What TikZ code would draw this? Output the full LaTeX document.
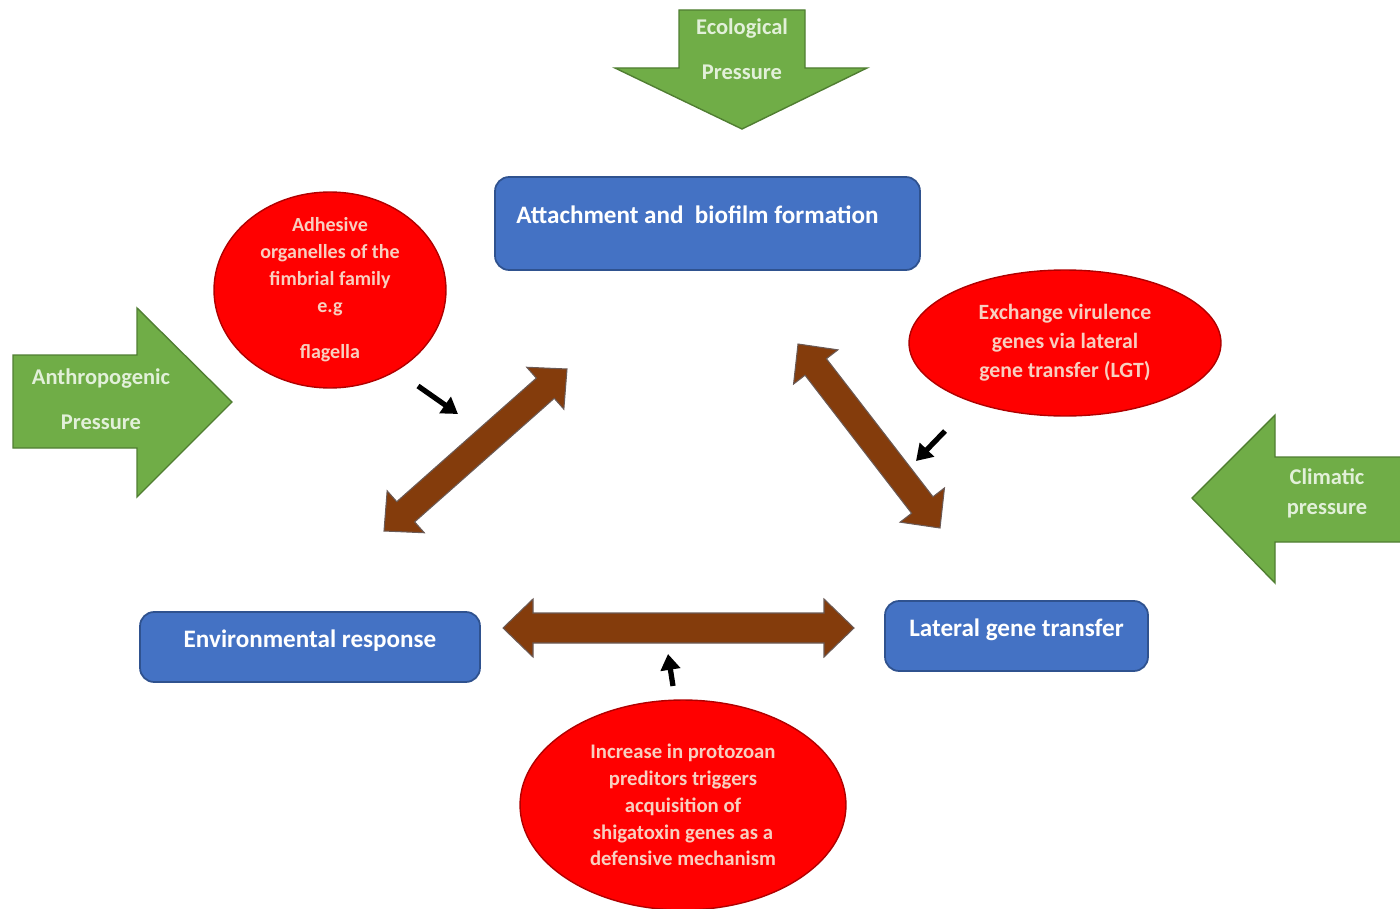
\documentclass[tikz,border=0pt]{standalone}
\usepackage{fontspec}
\setmainfont{Carlito}
\usetikzlibrary{shapes.geometric,calc,arrows.meta}

\definecolor{pressgreen}{HTML}{70AD47}
\definecolor{pressedge}{HTML}{507E32}
\definecolor{presstext}{HTML}{E2F0D9}
\definecolor{boxblue}{HTML}{4472C4}
\definecolor{boxedge}{HTML}{2F528F}
\definecolor{ovalred}{HTML}{FF0000}
\definecolor{ovaledge}{HTML}{B00000}
\definecolor{ovaltext}{HTML}{F8CFC0}
\definecolor{linkbrown}{HTML}{843C0C}
\definecolor{linkedge}{HTML}{6B5A55}

\tikzset{
  pressure/.style={fill=pressgreen,draw=pressedge,line width=0.8pt,line join=miter},
  presslabel/.style={text=presstext,align=center,font=\bfseries\fontsize{12.8}{25.5}\selectfont},
  stage/.style={rectangle,rounded corners=8pt,fill=boxblue,draw=boxedge,line width=1pt,
    text=white,font=\bfseries\fontsize{14.3}{17}\selectfont,text height=9pt,text depth=9pt},
  factor/.style={ellipse,fill=ovalred,draw=ovaledge,line width=0.8pt,inner sep=0pt},
  factortext/.style={text=ovaltext,align=center},
  link/.style={fill=linkbrown,draw=linkedge,line width=0.6pt,line join=miter},
  nudge/.style={line width=3pt,-{Triangle[length=9pt,width=11pt]}}
}

% brown two-way arrow: from, to, head length, head half width, shaft half width
\newcommand{\twoway}[5]{%
  \filldraw[link] (#1) -- ($(#1)!#3!(#2)!#4!90:(#2)$) -- ($(#1)!#3!(#2)!#5!90:(#2)$)
    -- ($(#2)!#3!(#1)!#5!-90:(#1)$) -- ($(#2)!#3!(#1)!#4!-90:(#1)$) -- (#2)
    -- ($(#2)!#3!(#1)!#4!90:(#1)$) -- ($(#2)!#3!(#1)!#5!90:(#1)$)
    -- ($(#1)!#3!(#2)!#5!-90:(#2)$) -- ($(#1)!#3!(#2)!#4!-90:(#2)$) -- cycle;}

\begin{document}
\begin{tikzpicture}[x=0.02cm,y=-0.02cm]
    \useasboundingbox (0,0) rectangle (1400,909);

    % pressures
    \draw[pressure] (679,10) -- (805,10) -- (805,68) -- (867,68) -- (742,129) -- (615,68) -- (679,68) -- cycle;
    \node[presslabel] (eco) at (742,49.5) {Ecological\\Pressure};
    \draw[pressure] (13,355) -- (137,355) -- (137,308) -- (232,402) -- (137,497) -- (137,448) -- (13,448) -- cycle;
    \node[presslabel] (anthro) at (101,399.5) {Anthropogenic\\Pressure};
    \draw[pressure] (1401,457) -- (1275,457) -- (1275,415) -- (1192,498) -- (1275,583) -- (1275,542) -- (1401,542);
    \node[presslabel,font=\bfseries\fontsize{12.8}{17}\selectfont] (climatic) at (1327,493) {Climatic\\pressure};

    % stages
    \node[stage,minimum width=8.5cm,minimum height=1.86cm] (attach) at (707.5,223.5) {Attachment and \ biofilm formation\kern0.4cm};
    \node[stage,minimum width=6.8cm,minimum height=1.4cm] (envresp) at (310,647) {Environmental response};
    \node[stage,minimum width=5.26cm,minimum height=1.4cm] (lgt) at (1016.5,636) {Lateral gene transfer};

    % factors
    \node[factor,minimum width=4.64cm,minimum height=3.92cm] (adhesive) at (330,290) {};
    \node[factortext,font=\bfseries\fontsize{11.4}{15.4}\selectfont] (adhesive-txt) at (adhesive)
        {Adhesive\\organelles of the\\fimbrial family\\e.g\\[10.8pt]flagella};
    \node[factor,minimum width=6.24cm,minimum height=2.92cm] (exchange) at (1065,343) {};
    \node[factortext,font=\bfseries\fontsize{12.4}{16.5}\selectfont] (exchange-txt) at (exchange)
        {Exchange virulence\\genes via lateral\\gene transfer (LGT)};
    \node[factor,minimum width=6.52cm,minimum height=4.2cm] (protozoa) at (683,805) {};
    \node[factortext,font=\bfseries\fontsize{11.8}{15.3}\selectfont] (protozoa-txt) at (protozoa)
        {Increase in protozoan\\preditors triggers\\acquisition of\\shigatoxin genes as a\\defensive mechanism};

    % links between stages
    \coordinate (ea) at (384,531);
    \coordinate (ae) at (567,369);
    \coordinate (al) at (798,344);
    \coordinate (la) at (940,528);
    \coordinate (el) at (503,628);
    \coordinate (le) at (854,628);
    \twoway{ea}{ae}{0.58cm}{0.56cm}{0.27cm}
    \twoway{al}{la}{0.58cm}{0.56cm}{0.27cm}
    \twoway{el}{le}{0.6cm}{0.58cm}{0.3cm}

    % small pointers
    \coordinate (p1) at (418,386);
    \coordinate (q1) at (458,414);
    \coordinate (p2) at (945,431);
    \coordinate (q2) at (916,461);
    \coordinate (p3) at (673,686);
    \coordinate (q3) at (668,654);
    \draw[nudge] (p1) -- (q1);
    \draw[nudge] (p2) -- (q2);
    \draw[nudge] (p3) -- (q3);
\end{tikzpicture}
\end{document}
